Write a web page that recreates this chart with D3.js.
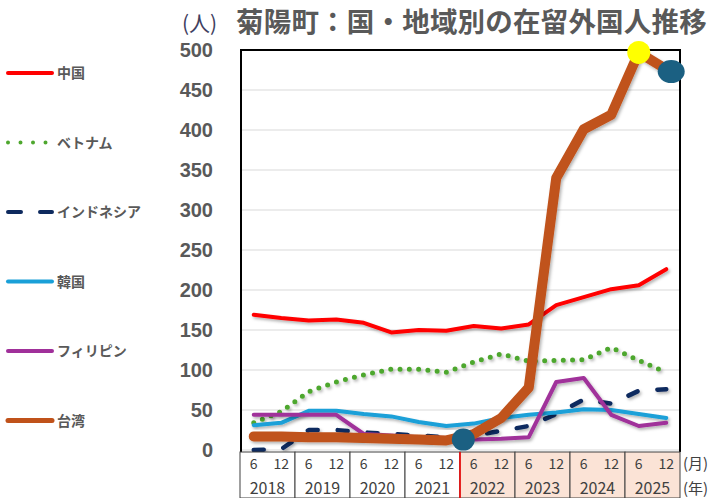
<!DOCTYPE html>
<html>
<head>
<meta charset="utf-8">
<script src="https://d3js.org/d3.v7.min.js"></script>
<style>
    body { margin: 0; background: white; }
    text { font-family: "Noto Sans CJK JP", "Noto Sans", sans-serif; }
</style>
</head>
<body>
<script>
    // periods: June and December of each year
    let years = [2018, 2019, 2020, 2021, 2022, 2023, 2024, 2025];
    let months = ["6", "12"];
    let periods = [];
    years.forEach(y => months.forEach(m => periods.push(y + "-" + m)));

    let china       = [169, 165, 162, 163, 159, 147, 150, 149, 155, 152, 157, 181, 191, 201, 206, 226];
    let vietnam     = [34, 48, 73, 85, 94, 101, 101, 97, 110, 120, 111, 112, 113, 128, 112, 97];
    let indonesia   = [0, 1, 25, 25, 22, 20, 18, 16, 18, 24, 30, 45, 63, 58, 74, 76];
    let korea       = [31, 34, 49, 49, 45, 42, 35, 30, 33, 40, 44, 47, 51, 50, 45, 40];
    let philippines = [44, 44, 44, 44, 20, 18, 16, 15, 13, 14, 16, 85, 90, 44, 30, 34];
    let taiwan      = [17, 17, 16, 16, 15, 14, 13, 12, 20, 40, 78, 340, 401, 419, 497, 476];

    let yTicks = [0, 50, 100, 150, 200, 250, 300, 350, 400, 450, 500];
    let shadedYears = [2022, 2023, 2024, 2025];

    let series = [
        {name: "中国", values: china, color: "#ff0000", width: 4, dash: null},
        {name: "ベトナム", values: vietnam, color: "#4ea72e", width: 5, dash: "0,9.3"},
        {name: "インドネシア", values: indonesia, color: "#0e2a5e", width: 4.5, dash: "10,20"},
        {name: "韓国", values: korea, color: "#1aa0d8", width: 4, dash: null},
        {name: "フィリピン", values: philippines, color: "#a0309a", width: 4, dash: null},
        {name: "台湾", values: taiwan, color: "#c0521a", width: 10, dash: null}
    ];

    let W = 709, H = 498;
    let plot = {left: 240, right: 680, top: 50, bottom: 450};

    let svg = d3.select("body").append("svg")
        .attr("width", W)
        .attr("height", H);

    let defs = svg.append("defs");
    let f = defs.append("filter").attr("id", "shadow")
        .attr("x", "-10%").attr("y", "-10%").attr("width", "130%").attr("height", "130%");
    f.append("feDropShadow")
        .attr("dx", 1.5).attr("dy", 2).attr("stdDeviation", 1.5)
        .attr("flood-color", "#000").attr("flood-opacity", 0.3);

    let x = d3.scaleBand().domain(periods).range([plot.left, plot.right]).padding(0);
    let xc = p => x(p) + x.bandwidth() / 2;
    let yearX = d3.scaleBand().domain(years).range([plot.left, plot.right]).padding(0);
    let y = d3.scaleLinear().domain([0, 500]).range([plot.bottom, plot.top]);

    // gridlines
    svg.append("g").selectAll("line")
        .data(yTicks)
        .enter().append("line")
        .attr("x1", plot.left).attr("x2", plot.right)
        .attr("y1", d => y(d)).attr("y2", d => y(d))
        .attr("stroke", "#d9d9d9")
        .attr("stroke-width", 1);

    // y tick labels
    svg.append("g").selectAll("text")
        .data(yTicks)
        .enter().append("text")
        .attr("x", 213)
        .attr("y", d => y(d))
        .attr("dy", "0.36em")
        .attr("text-anchor", "end")
        .style("font-family", "'Liberation Sans', Arial, sans-serif")
        .style("font-weight", "bold")
        .style("font-size", "20px")
        .style("fill", "#595959")
        .text(d => d);

    // lines
    let line = d3.line()
        .x((d, i) => xc(periods[i]))
        .y(d => y(d));

    series.forEach(s => {
        svg.append("path")
            .datum(s.values)
            .attr("d", line)
            .attr("fill", "none")
            .attr("stroke", s.color)
            .attr("stroke-width", s.width)
            .attr("stroke-linejoin", "round")
            .attr("stroke-linecap", "round")
            .attr("stroke-dasharray", s.dash)
            .attr("filter", "url(#shadow)");
    });

    // plot frame (left, top, right)
    svg.append("path")
        .attr("d", "M" + (plot.left + 1) + "," + (plot.bottom + 2) + "V" + plot.top + "H" + plot.right + "V" + (plot.bottom + 2))
        .attr("fill", "none")
        .attr("stroke", "#000")
        .attr("stroke-width", 2);

    // highlight markers
    let markers = [
        {period: "2021-12", shift: 0.62, value: 13, rx: 11.5, ry: 11, color: "#1b6082"},
        {period: "2025-6", shift: 0, value: 497, rx: 11.5, ry: 11.5, color: "#ffff00"},
        {period: "2025-12", shift: 0.18, value: 473, rx: 13.5, ry: 11.5, color: "#1b6082"}
    ];
    svg.append("g").selectAll("ellipse")
        .data(markers)
        .enter().append("ellipse")
        .attr("cx", d => xc(d.period) + d.shift * x.bandwidth())
        .attr("cy", d => y(d.value))
        .attr("rx", d => d.rx)
        .attr("ry", d => d.ry)
        .attr("fill", d => d.color);

    // x-axis table
    let tTop = 452, tBot = 498;
    let table = svg.append("g");
    table.selectAll("rect")
        .data(years)
        .enter().append("rect")
        .attr("x", d => yearX(d))
        .attr("y", tTop)
        .attr("width", yearX.bandwidth())
        .attr("height", tBot - tTop)
        .attr("fill", d => shadedYears.includes(d) ? "#fbe3d6" : "#ffffff")
        .attr("stroke", "#404040")
        .attr("stroke-width", 1);

    table.append("line")
        .attr("x1", yearX(2022)).attr("x2", yearX(2022))
        .attr("y1", tTop).attr("y2", tBot)
        .attr("stroke", "#ff0000")
        .attr("stroke-width", 1.5);

    table.selectAll(".m")
        .data(periods)
        .enter().append("text")
        .attr("class", "m")
        .attr("x", d => xc(d))
        .attr("y", 469)
        .attr("text-anchor", "middle")
        .style("font-size", "14px")
        .style("fill", "#404040")
        .text(d => d.split("-")[1]);

    table.selectAll(".yr")
        .data(years)
        .enter().append("text")
        .attr("class", "yr")
        .attr("x", d => yearX(d) + yearX.bandwidth() / 2)
        .attr("y", 494)
        .attr("text-anchor", "middle")
        .style("font-size", "16px")
        .style("fill", "#404040")
        .text(d => d);

    svg.append("text")
        .attr("x", 683).attr("y", 469)
        .style("font-size", "15px").style("fill", "#404040")
        .text("(月)");
    svg.append("text")
        .attr("x", 683).attr("y", 494)
        .style("font-size", "15px").style("fill", "#404040")
        .text("(年)");

    // title
    svg.append("text")
        .attr("x", 182).attr("y", 31)
        .style("font-size", "21px").style("fill", "#404060")
        .text("(人)");
    svg.append("text")
        .attr("x", 236).attr("y", 32)
        .style("font-size", "27.5px").style("font-weight", "bold").style("fill", "#595959")
        .style("letter-spacing", "0.2px")
        .text("菊陽町：国・地域別の在留外国人推移");

    // legend
    let legend = svg.append("g");
    series.forEach((s, i) => {
        let ly = 73 + i * 69.5;
        legend.append("line")
            .attr("x1", 8).attr("x2", s.dash === "0,9.3" ? 48 : 52)
            .attr("y1", ly).attr("y2", ly)
            .attr("stroke", s.color)
            .attr("stroke-width", i == 5 ? 5 : 4)
            .attr("stroke-linecap", "round")
            .attr("stroke-dasharray", s.dash === "0,9.3" ? "0,12.5" : (s.dash ? "13,19" : null));
        legend.append("text")
            .attr("x", 57).attr("y", ly)
            .attr("dy", "0.36em")
            .style("font-size", "14px").style("font-weight", "bold").style("fill", "#595959")
            .text(s.name);
    });
</script>
</body>
</html>
